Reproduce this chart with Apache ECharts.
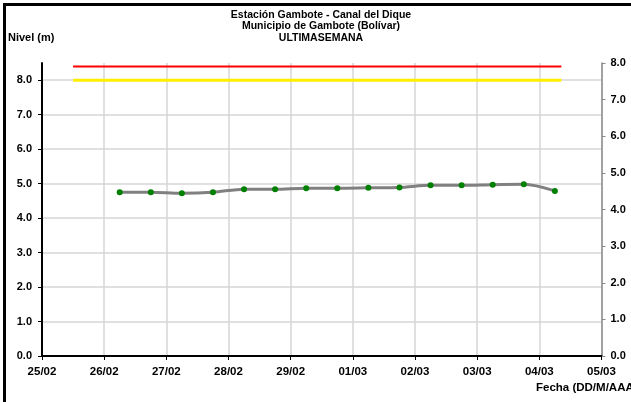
<!DOCTYPE html>
<html>
<head>
<meta charset="utf-8">
<script src="https://cdn.jsdelivr.net/npm/echarts@6/dist/echarts.min.js"></script>
<style>
html,body{margin:0;padding:0;background:#fff;}
#chart{width:631px;height:402px;}
</style>
</head>
<body>
<div id="chart"></div>
<script>
// ---- data ----
var titleLines = ['Estación Gambote - Canal del Dique', 'Municipio de Gambote (Bolívar)', 'ULTIMASEMANA'];
var yAxisName = 'Nivel (m)';
var xAxisName = 'Fecha (DD/M/AAAA)';
var xMinDate = '2024-02-25T00:00Z';
var xMaxDate = '2024-03-05T00:00Z';
var times = [
  '2024-02-26T06:00Z', '2024-02-26T18:00Z',
  '2024-02-27T06:00Z', '2024-02-27T18:00Z',
  '2024-02-28T06:00Z', '2024-02-28T18:00Z',
  '2024-02-29T06:00Z', '2024-02-29T18:00Z',
  '2024-03-01T06:00Z', '2024-03-01T18:00Z',
  '2024-03-02T06:00Z', '2024-03-02T18:00Z',
  '2024-03-03T06:00Z', '2024-03-03T18:00Z',
  '2024-03-04T06:00Z'
];
var nivel = [4.75, 4.75, 4.72, 4.75, 4.84, 4.84, 4.87, 4.87, 4.88, 4.89, 4.95, 4.95, 4.97, 4.98, 4.79];
var alertTimes = ['2024-02-25T12:00Z', '2024-03-04T08:30Z'];
var alertRed = [8.4, 8.4];
var alertYellow = [8.0, 8.0];
var leftTicks = [0, 1, 2, 3, 4, 5, 6, 7, 8];

// ---- chart ----
function pairs(ts, vs) {
  return ts.map(function (t, i) { return [Date.parse(t), vs[i]]; });
}
var DAY = 86400000;
var font = 'Liberation Sans, Arial, sans-serif';
var chart = echarts.init(document.getElementById('chart'), null, {renderer: 'canvas'});
function pad(n) { return (n < 10 ? '0' : '') + n; }

chart.setOption({
  animation: false,
  backgroundColor: '#ffffff',
  title: {
    text: titleLines.join('\n'),
    left: 316, top: 4, textAlign: 'center',
    textStyle: {fontFamily: font, fontSize: 10.5, fontWeight: 'bold', color: '#000', lineHeight: 11.5}
  },
  graphic: [
    {type: 'rect', shape: {x: 4.5, y: 4.5, width: 700, height: 500}, style: {fill: null, stroke: '#000', lineWidth: 3}, z: 100},
    {type: 'text', left: 8, top: 32, style: {text: yAxisName, font: 'bold 11px Liberation Sans, Arial, sans-serif', fill: '#000'}},
    {type: 'text', left: 536, top: 382, style: {text: xAxisName, font: 'bold 11.5px Liberation Sans, Arial, sans-serif', fill: '#000'}}
  ],
  grid: {left: 42, right: 29.5, top: 63, bottom: 46, containLabel: false},
  xAxis: {
    type: 'value',
    min: Date.parse(xMinDate), max: Date.parse(xMaxDate), interval: DAY,
    axisLine: {lineStyle: {color: '#000', width: 2}},
    axisTick: {show: true, length: 4, lineStyle: {color: '#000'}},
    axisLabel: {
      fontFamily: font, fontSize: 11.5, fontWeight: 'bold', color: '#000', margin: 10,
      formatter: function (v) { var d = new Date(v); return pad(d.getUTCDate()) + '/' + pad(d.getUTCMonth() + 1); }
    },
    splitLine: {show: true, lineStyle: {color: '#d6d6d6', width: 1.5}}
  },
  yAxis: [
    {
      type: 'value', min: 0, max: 8.5, interval: 0.5, position: 'left',
      axisLine: {show: true, lineStyle: {color: '#000', width: 2}},
      axisTick: {show: true, length: 4, customValues: leftTicks, lineStyle: {color: '#000'}},
      axisLabel: {customValues: leftTicks, fontFamily: font, fontSize: 11, fontWeight: 'bold', color: '#000', margin: 10,
        formatter: function (v) { return v.toFixed(1); }},
      splitLine: {show: true, lineStyle: {color: '#d6d6d6', width: 1.5}}
    },
    {
      type: 'value', min: 0, max: 8, interval: 1, position: 'right',
      axisLine: {show: true, lineStyle: {color: '#8c8c8c', width: 1.5}},
      axisTick: {show: true, length: 4, lineStyle: {color: '#8c8c8c'}},
      axisLabel: {fontFamily: font, fontSize: 11, fontWeight: 'bold', color: '#000', margin: 9,
        formatter: function (v) { return v.toFixed(1); }},
      splitLine: {show: false}
    }
  ],
  series: [
    {
      name: 'Rojo', type: 'line', data: pairs(alertTimes, alertRed), symbol: 'none',
      lineStyle: {color: '#ff0000', width: 2}, z: 3
    },
    {
      name: 'Amarillo', type: 'line', data: pairs(alertTimes, alertYellow), symbol: 'none',
      lineStyle: {color: '#ffee00', width: 3}, z: 3
    },
    {
      name: 'Nivel', type: 'line', data: pairs(times, nivel), smooth: 0.3,
      symbol: 'circle', symbolSize: 6,
      lineStyle: {color: '#808080', width: 3},
      itemStyle: {color: '#008000', borderWidth: 0}, z: 4
    }
  ]
});
</script>
</body>
</html>
